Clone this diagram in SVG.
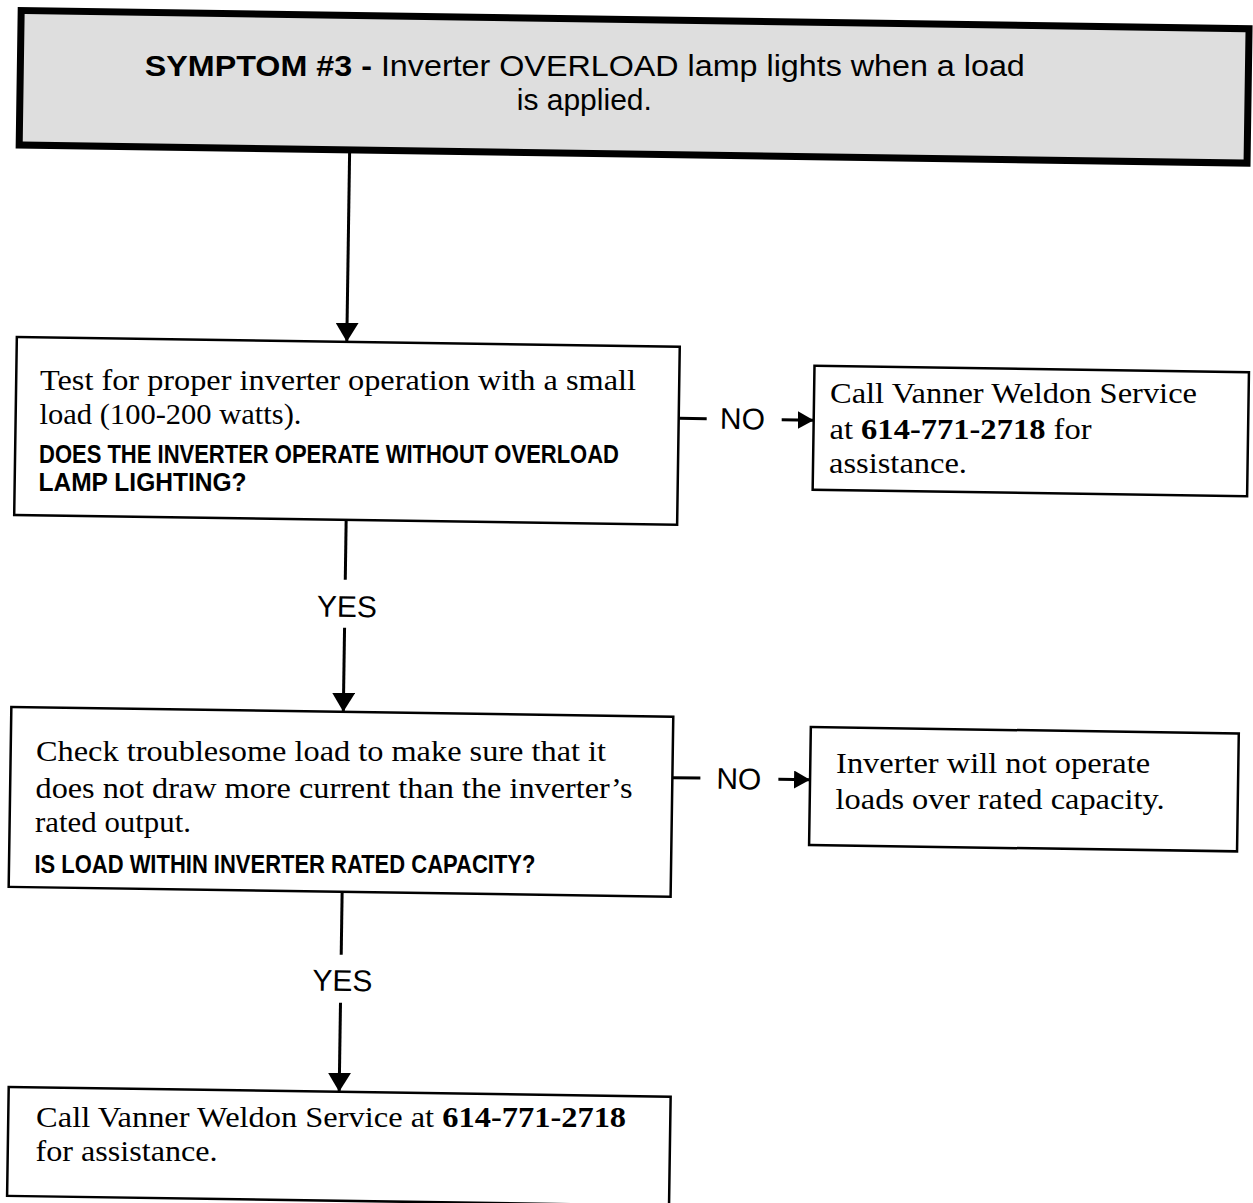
<svg xmlns="http://www.w3.org/2000/svg" width="1253" height="1203" viewBox="0 0 1253 1203">
<defs>
<marker id="ah" viewBox="0 0 19 23" refX="19" refY="11.5" markerWidth="19" markerHeight="23" markerUnits="userSpaceOnUse" orient="auto"><path d="M0,0 L19,11.5 L0,23 z" fill="#000"/></marker>
<marker id="ahh" viewBox="0 0 16 18" refX="16" refY="9" markerWidth="16" markerHeight="18" markerUnits="userSpaceOnUse" orient="auto"><path d="M0,0 L16,9 L0,18 z" fill="#000"/></marker>
</defs>
<style>
.box{fill:#fff;stroke:#000;stroke-width:2.5}
.hdr{fill:#dedede;stroke:#000;stroke-width:7}
.serif{font-family:"Liberation Serif","Times New Roman",serif;font-size:30px;fill:#000}
.hd{font-family:"Liberation Sans",Arial,sans-serif;font-size:30px;fill:#000}
.cap{font-family:"Liberation Sans",Arial,sans-serif;font-weight:bold;font-size:25px;fill:#000}
.lbl{font-family:"Liberation Sans",Arial,sans-serif;font-size:30px;fill:#000}
.ln{stroke:#000;stroke-width:3;fill:none}
.b{font-weight:bold}
</style>
<rect width="1253" height="1203" fill="#fff"/>
<g id="connectors" transform="rotate(0.85 626 600)">
  <path class="ln" d="M343,157 V346" marker-end="url(#ah)"/>
  <path class="ln" d="M676,417.5 H704"/>
  <text class="lbl" x="717.3" y="427.5">NO</text>
  <path class="ln" d="M779,417.5 H811" marker-end="url(#ahh)"/>
  <path class="ln" d="M345,524 V584"/>
  <text class="lbl" x="347" y="621" text-anchor="middle">YES</text>
  <path class="ln" d="M345,632 V716" marker-end="url(#ah)"/>
  <path class="ln" d="M675,777 H703"/>
  <text class="lbl" x="719" y="787.5">NO</text>
  <path class="ln" d="M781,777 H812.7" marker-end="url(#ahh)"/>
  <path class="ln" d="M346.5,896 V959"/>
  <text class="lbl" x="348" y="995" text-anchor="middle">YES</text>
  <path class="ln" d="M346.5,1007 V1096" marker-end="url(#ah)"/>
</g>
<g id="header">
  <rect class="hdr" x="12.5" y="19.5" width="1228" height="134.5" transform="rotate(0.85 626 600)"/>
  <text class="hd" x="584.8" y="76.3" text-anchor="middle" textLength="880" lengthAdjust="spacingAndGlyphs"><tspan class="b">SYMPTOM #3 -</tspan> Inverter OVERLOAD lamp lights when a load</text>
  <text class="hd" x="584.3" y="110.3" text-anchor="middle">is applied.</text>
</g>
<g id="test-small-load">
  <rect class="box" x="13" y="346" width="663" height="178" transform="rotate(0.85 626 600)"/>
  <text class="serif" x="338" y="390.2" text-anchor="middle" textLength="596" lengthAdjust="spacingAndGlyphs">Test for proper inverter operation with a small</text>
  <text class="serif" x="170.5" y="423.8" text-anchor="middle" textLength="262" lengthAdjust="spacingAndGlyphs">load (100-200 watts).</text>
  <text class="cap" x="329" y="462.6" text-anchor="middle" textLength="580" lengthAdjust="spacingAndGlyphs">DOES THE INVERTER OPERATE WITHOUT OVERLOAD</text>
  <text class="cap" x="142.5" y="491.2" text-anchor="middle" textLength="208" lengthAdjust="spacingAndGlyphs">LAMP LIGHTING?</text>
</g>
<g id="call-service-1">
  <rect class="box" x="811" y="363" width="434.5" height="124" transform="rotate(0.85 626 600)"/>
  <text class="serif" x="1013.5" y="402.7" text-anchor="middle" textLength="367" lengthAdjust="spacingAndGlyphs">Call Vanner Weldon Service</text>
  <text class="serif" x="960.5" y="438.9" text-anchor="middle" textLength="262" lengthAdjust="spacingAndGlyphs">at <tspan class="b">614-771-2718</tspan> for</text>
  <text class="serif" x="898" y="472.5" text-anchor="middle" textLength="138" lengthAdjust="spacingAndGlyphs">assistance.</text>
</g>
<g id="check-load">
  <rect class="box" x="13" y="716" width="662" height="180" transform="rotate(0.85 626 600)"/>
  <text class="serif" x="321" y="761" text-anchor="middle" textLength="570" lengthAdjust="spacingAndGlyphs">Check troublesome load to make sure that it</text>
  <text class="serif" x="334" y="797.7" text-anchor="middle" textLength="597" lengthAdjust="spacingAndGlyphs">does not draw more current than the inverter’s</text>
  <text class="serif" x="113" y="831.5" text-anchor="middle" textLength="156" lengthAdjust="spacingAndGlyphs">rated output.</text>
  <text class="cap" x="284.9" y="872.5" text-anchor="middle" textLength="501" lengthAdjust="spacingAndGlyphs">IS LOAD WITHIN INVERTER RATED CAPACITY?</text>
</g>
<g id="not-operate">
  <rect class="box" x="812.7" y="724.3" width="428" height="118" transform="rotate(0.85 626 600)"/>
  <text class="serif" x="993.1" y="772.5" text-anchor="middle" textLength="314" lengthAdjust="spacingAndGlyphs">Inverter will not operate</text>
  <text class="serif" x="1000.1" y="808.6" text-anchor="middle" textLength="329" lengthAdjust="spacingAndGlyphs">loads over rated capacity.</text>
</g>
<g id="call-service-2">
  <rect class="box" x="16" y="1096" width="662" height="109" transform="rotate(0.85 626 600)"/>
  <text class="serif" x="331.1" y="1127.2" text-anchor="middle" textLength="590" lengthAdjust="spacingAndGlyphs">Call Vanner Weldon Service at <tspan class="b">614-771-2718</tspan></text>
  <text class="serif" x="126.6" y="1161.2" text-anchor="middle" textLength="182" lengthAdjust="spacingAndGlyphs">for assistance.</text>
</g>
</svg>
